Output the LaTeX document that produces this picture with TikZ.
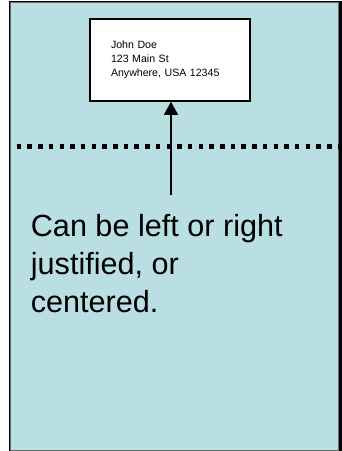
\documentclass[tikz,border=0pt]{standalone}
\usepackage{fontspec}
\setmainfont{Liberation Sans}
\usepackage{tikz}
\usetikzlibrary{arrows.meta}
\definecolor{pagefill}{RGB}{185,223,227}
\definecolor{pageedge}{RGB}{94,110,110}

\begin{document}
\begin{tikzpicture}[x=1pt,y=-1pt,
		addressbox/.style={draw=black,line width=1.5pt,fill=white,minimum width=160pt,minimum height=82pt,
			text width=118pt,inner xsep=21pt,align=left,font=\fontsize{10.6}{14}\selectfont},
		foldline/.style={line width=4.5pt,dash pattern=on 4.5pt off 6.2pt},
		pointer/.style={line width=1.3pt,-{Triangle[width=14pt,length=13pt]}}]
		\useasboundingbox (0,0) rectangle (342,451);
		% the sheet
		\fill[black] (8.5,0.5) rectangle (342,451);
		\filldraw[fill=pagefill,draw=pageedge,line width=1pt] (10.5,2.5) rectangle (338,450.5);
		% address window
		\node[addressbox] (address) at (170,60) {John Doe\\123 Main St\\Anywhere, USA 12345};
		\draw[foldline] (16.7,146.5) -- (338,146.5);
		\coordinate (tail) at (171,195);
		\draw[pointer] (tail) -- (tail |- address.south);
		\node[anchor=north west,inner sep=0pt,align=left,font=\fontsize{30.6}{38}\selectfont] (note) at (30.7,214.5)
			{Can be left or right\\justified, or\\centered.};
	\end{tikzpicture}
\end{document}
